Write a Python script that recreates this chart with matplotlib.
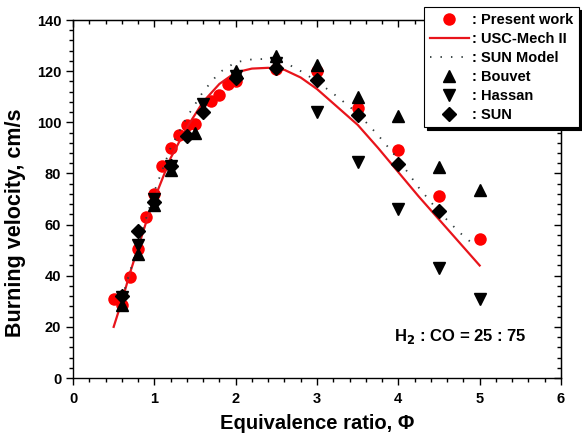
import matplotlib
matplotlib.use("Agg")
import matplotlib.pyplot as plt
from matplotlib.ticker import MultipleLocator

plt.rcParams["font.family"] = ["Liberation Sans", "DejaVu Sans"]
plt.rcParams["font.weight"] = "bold"

# ── data ──────────────────────────────────────────────────────────────────────
present_phi = [0.5, 0.6, 0.7, 0.8, 0.9, 1.0, 1.1, 1.2, 1.3, 1.4, 1.5, 1.7, 1.8,
               1.9, 2.0, 2.5, 3.0, 3.5, 4.0, 4.5, 5.0]
present_su = [31, 28.5, 39.5, 50.5, 63, 72, 83, 90, 95, 99, 99.5, 108.5, 110.5,
              115, 116, 121, 120, 105.5, 89, 71, 54.5]

usc_phi = [0.5, 0.6, 0.7, 0.8, 0.9, 1.0, 1.2, 1.4, 1.6, 1.8, 2.0, 2.2, 2.4, 2.6,
           2.8, 3.0, 3.25, 3.5, 3.75, 4.0, 4.25, 4.5, 4.75, 5.0]
usc_su = [20, 30, 41, 51, 61, 70, 86, 98, 108, 115, 119.5, 121, 121.3, 120.5,
          117.5, 113, 106, 99, 90, 80.5, 71, 62, 53, 44]

sun_model_phi = [0.6, 0.8, 1.0, 1.2, 1.4, 1.6, 1.8, 2.0, 2.2, 2.4, 2.6, 2.8, 3.0,
                 3.25, 3.5, 3.75, 4.0, 4.25, 4.5, 4.75, 4.95]
sun_model_su = [31, 52, 73, 90, 102, 112, 119.5, 123.5, 124.6, 124.8, 123.5, 120,
                116, 110, 103.5, 95, 85.5, 74.5, 65, 57, 51.5]

bouvet_phi = [0.6, 0.8, 1.0, 1.2, 1.5, 2.0, 2.5, 3.0, 3.5, 4.0, 4.5, 5.0]
bouvet_su = [28.5, 48.5, 67.5, 81.5, 96, 120, 125.8, 122.4, 109.8, 102.3, 82.7, 73.7]

hassan_phi = [0.6, 0.8, 1.0, 1.2, 1.6, 2.0, 2.5, 3.0, 3.5, 4.0, 4.5, 5.0]
hassan_su = [31.5, 52, 70, 83, 107, 118, 123, 104.2, 84.6, 66, 42.9, 30.9]

sun_phi = [0.6, 0.8, 1.0, 1.2, 1.4, 1.6, 2.0, 2.5, 3.0, 3.5, 4.0, 4.5]
sun_su = [32, 57.5, 69, 83, 94.5, 104, 117.5, 121.4, 116.6, 102.9, 83.5, 65.4]

# ── figure ────────────────────────────────────────────────────────────────────
fig = plt.figure(figsize=(5.82, 4.36), dpi=100)
ax = fig.add_axes([73 / 582, 1 - 378 / 436, (561 - 73) / 582, (378 - 20) / 436])

ms = 9
ax.plot(present_phi, present_su, "o", color="#ff0000", ms=ms, mec="none",
        label=": Present work", zorder=2)
ax.plot(usc_phi, usc_su, "-", color="#e8141b", lw=1.6, label=": USC-Mech II", zorder=3)
ax.plot(sun_model_phi, sun_model_su, color="#2f3b3b", lw=1.3,
        linestyle=(0, (0.8, 5)), label=": SUN Model", zorder=3)
ax.plot(bouvet_phi, bouvet_su, "^", color="black", ms=ms, label=": Bouvet", zorder=4)
ax.plot(hassan_phi, hassan_su, "v", color="black", ms=ms, label=": Hassan", zorder=4)
ax.plot(sun_phi, sun_su, "D", color="black", ms=ms - 1.5, label=": SUN", zorder=4)

ax.set_xlim(0, 6)
ax.set_ylim(0, 140)
ax.xaxis.set_major_locator(MultipleLocator(1))
ax.xaxis.set_minor_locator(MultipleLocator(0.2))
ax.yaxis.set_major_locator(MultipleLocator(20))
ax.yaxis.set_minor_locator(MultipleLocator(4))
ax.tick_params(which="both", direction="out", top=False, right=False,
               labelsize=10.5, width=1)
ax.tick_params(which="major", length=5)
ax.tick_params(which="minor", length=3)
ax.tick_params(axis="x", pad=5)
for lab in ax.get_xticklabels() + ax.get_yticklabels():
    lab.set_fontweight("bold")

# mirrored inward ticks on top/right
sec_x = ax.secondary_xaxis("top")
sec_x.xaxis.set_major_locator(MultipleLocator(1))
sec_x.xaxis.set_minor_locator(MultipleLocator(0.2))
sec_x.tick_params(which="both", direction="in", labeltop=False, width=1)
sec_x.tick_params(which="major", length=5)
sec_x.tick_params(which="minor", length=3)
sec_y = ax.secondary_yaxis("right")
sec_y.yaxis.set_major_locator(MultipleLocator(20))
sec_y.yaxis.set_minor_locator(MultipleLocator(4))
sec_y.tick_params(which="both", direction="in", labelright=False, width=1)
sec_y.tick_params(which="major", length=5)
sec_y.tick_params(which="minor", length=3)
for s in ax.spines.values():
    s.set_linewidth(1.0)

ax.set_xlabel("Equivalence ratio, \u03a6", fontsize=14.5, fontweight="bold")
ax.set_ylabel("Burning velocity, cm/s", fontsize=15.5, fontweight="bold")
ax.xaxis.set_label_coords(0.5, -0.1)
ax.yaxis.set_label_coords(-0.097, 0.435)

ax.text(3.95, 16.3, r"H$_\mathbf{2}$ : CO = 25 : 75", fontsize=12, fontweight="bold",
        va="center", ha="left")

leg = fig.legend(loc="upper right", bbox_to_anchor=(579 / 582, 1 - 7 / 436),
                 borderaxespad=0, fancybox=False, framealpha=1, edgecolor="black",
                 prop={"weight": "bold", "size": 10.5}, handlelength=2.7,
                 handletextpad=0.2, labelspacing=0.34, borderpad=0.4,
                 shadow={"color": "black", "alpha": 1})
leg.get_frame().set_linewidth(0.8)

fig.savefig("out.png", dpi=100)
